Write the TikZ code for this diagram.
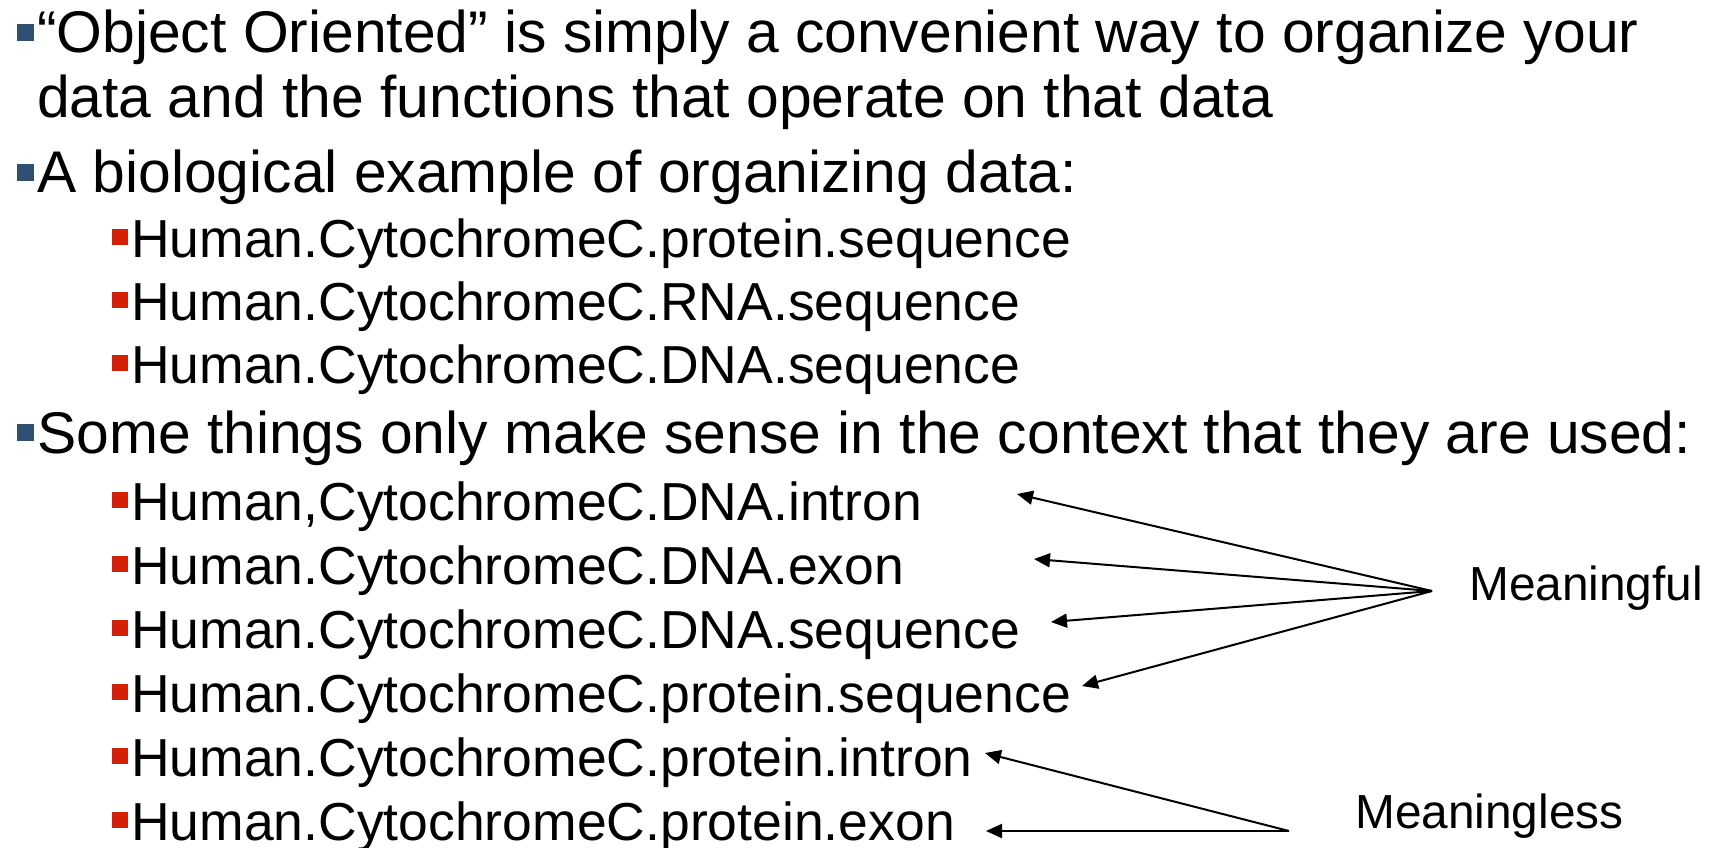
\documentclass[tikz,border=0pt]{standalone}
\usepackage{fontspec}
\setmainfont{Liberation Sans}
\usetikzlibrary{arrows.meta}
\definecolor{bulletblue}{RGB}{47,80,115}
\definecolor{bulletred}{RGB}{212,32,8}

\begin{document}
\begin{tikzpicture}[x=1pt,y=-1pt,
  lone/.style={anchor=base west,inner sep=0pt,font=\fontsize{58.8}{64}\selectfont},
  ltwo/.style={anchor=base west,inner sep=0pt,font=\fontsize{53.5}{60}\selectfont},
  tag/.style={anchor=base west,inner sep=0pt,font=\fontsize{47.8}{52}\selectfont},
  bone/.style={fill=bulletblue,minimum size=17pt,inner sep=0pt,anchor=south west},
  btwo/.style={fill=bulletred,minimum size=16pt,inner sep=0pt,anchor=south west},
  ptr/.style={line width=2pt,-{Triangle[length=16pt,width=14pt]}}]

  % page frame
  \fill[white] (0,0) rectangle (1709,848);
  \useasboundingbox (0,0) rectangle (1709,848);

  % first-level items
  \node[bone] (b1) at (17,41) {};
  \node[lone] (i1a) at (37,53) {“Object Oriented” is simply a convenient way to organize your};
  \node[lone] (i1b) at (37,118) {data and the functions that operate on that data};
  \node[bone] (b2) at (17,181) {};
  \node[lone] (i2) at (37,193) {A biological example of organizing data:};

  % second-level items of the example
  \node[btwo] (r1) at (112,245) {};
  \node[ltwo] (s1) at (131,257) {Human.CytochromeC.protein.sequence};
  \node[btwo] (r2) at (112,308) {};
  \node[ltwo] (s2) at (131,320) {Human.CytochromeC.RNA.sequence};
  \node[btwo] (r3) at (112,371) {};
  \node[ltwo] (s3) at (131,383) {Human.CytochromeC.DNA.sequence};

  \node[bone] (b3) at (17,441) {};
  \node[lone] (i3) at (37,453) {Some things only make sense in the context that they are used:};

  % second-level items of the context list
  \node[btwo] (r4) at (112,508) {};
  \node[ltwo] (t1) at (131,520) {Human,CytochromeC.DNA.intron};
  \node[btwo] (r5) at (112,572) {};
  \node[ltwo] (t2) at (131,584) {Human.CytochromeC.DNA.exon};
  \node[btwo] (r6) at (112,636) {};
  \node[ltwo] (t3) at (131,648) {Human.CytochromeC.DNA.sequence};
  \node[btwo] (r7) at (112,700) {};
  \node[ltwo] (t4) at (131,712) {Human.CytochromeC.protein.sequence};
  \node[btwo] (r8) at (112,764) {};
  \node[ltwo] (t5) at (131,776) {Human.CytochromeC.protein.intron};
  \node[btwo] (r9) at (112,828) {};
  \node[ltwo] (t6) at (131,840) {Human.CytochromeC.protein.exon};

  % labels
  \node[tag] (good) at (1469,600) {Meaningful};
  \node[tag] (bad) at (1355,828) {Meaningless};

  % arrow hubs and tips
  \coordinate (hubgood) at (1432,591);
  \coordinate (hubbad) at (1289,831);
  \coordinate (p1) at (1017,494);
  \coordinate (p2) at (1034,559);
  \coordinate (p3) at (1051,622);
  \coordinate (p4) at (1082,686);
  \coordinate (p5) at (985,753);
  \coordinate (p6) at (986,831);

  \draw[ptr] (hubgood) -- (p1);
  \draw[ptr] (hubgood) -- (p2);
  \draw[ptr] (hubgood) -- (p3);
  \draw[ptr] (hubgood) -- (p4);
  \draw[ptr] (hubbad) -- (p5);
  \draw[ptr] (hubbad) -- (p6);
\end{tikzpicture}
\end{document}
